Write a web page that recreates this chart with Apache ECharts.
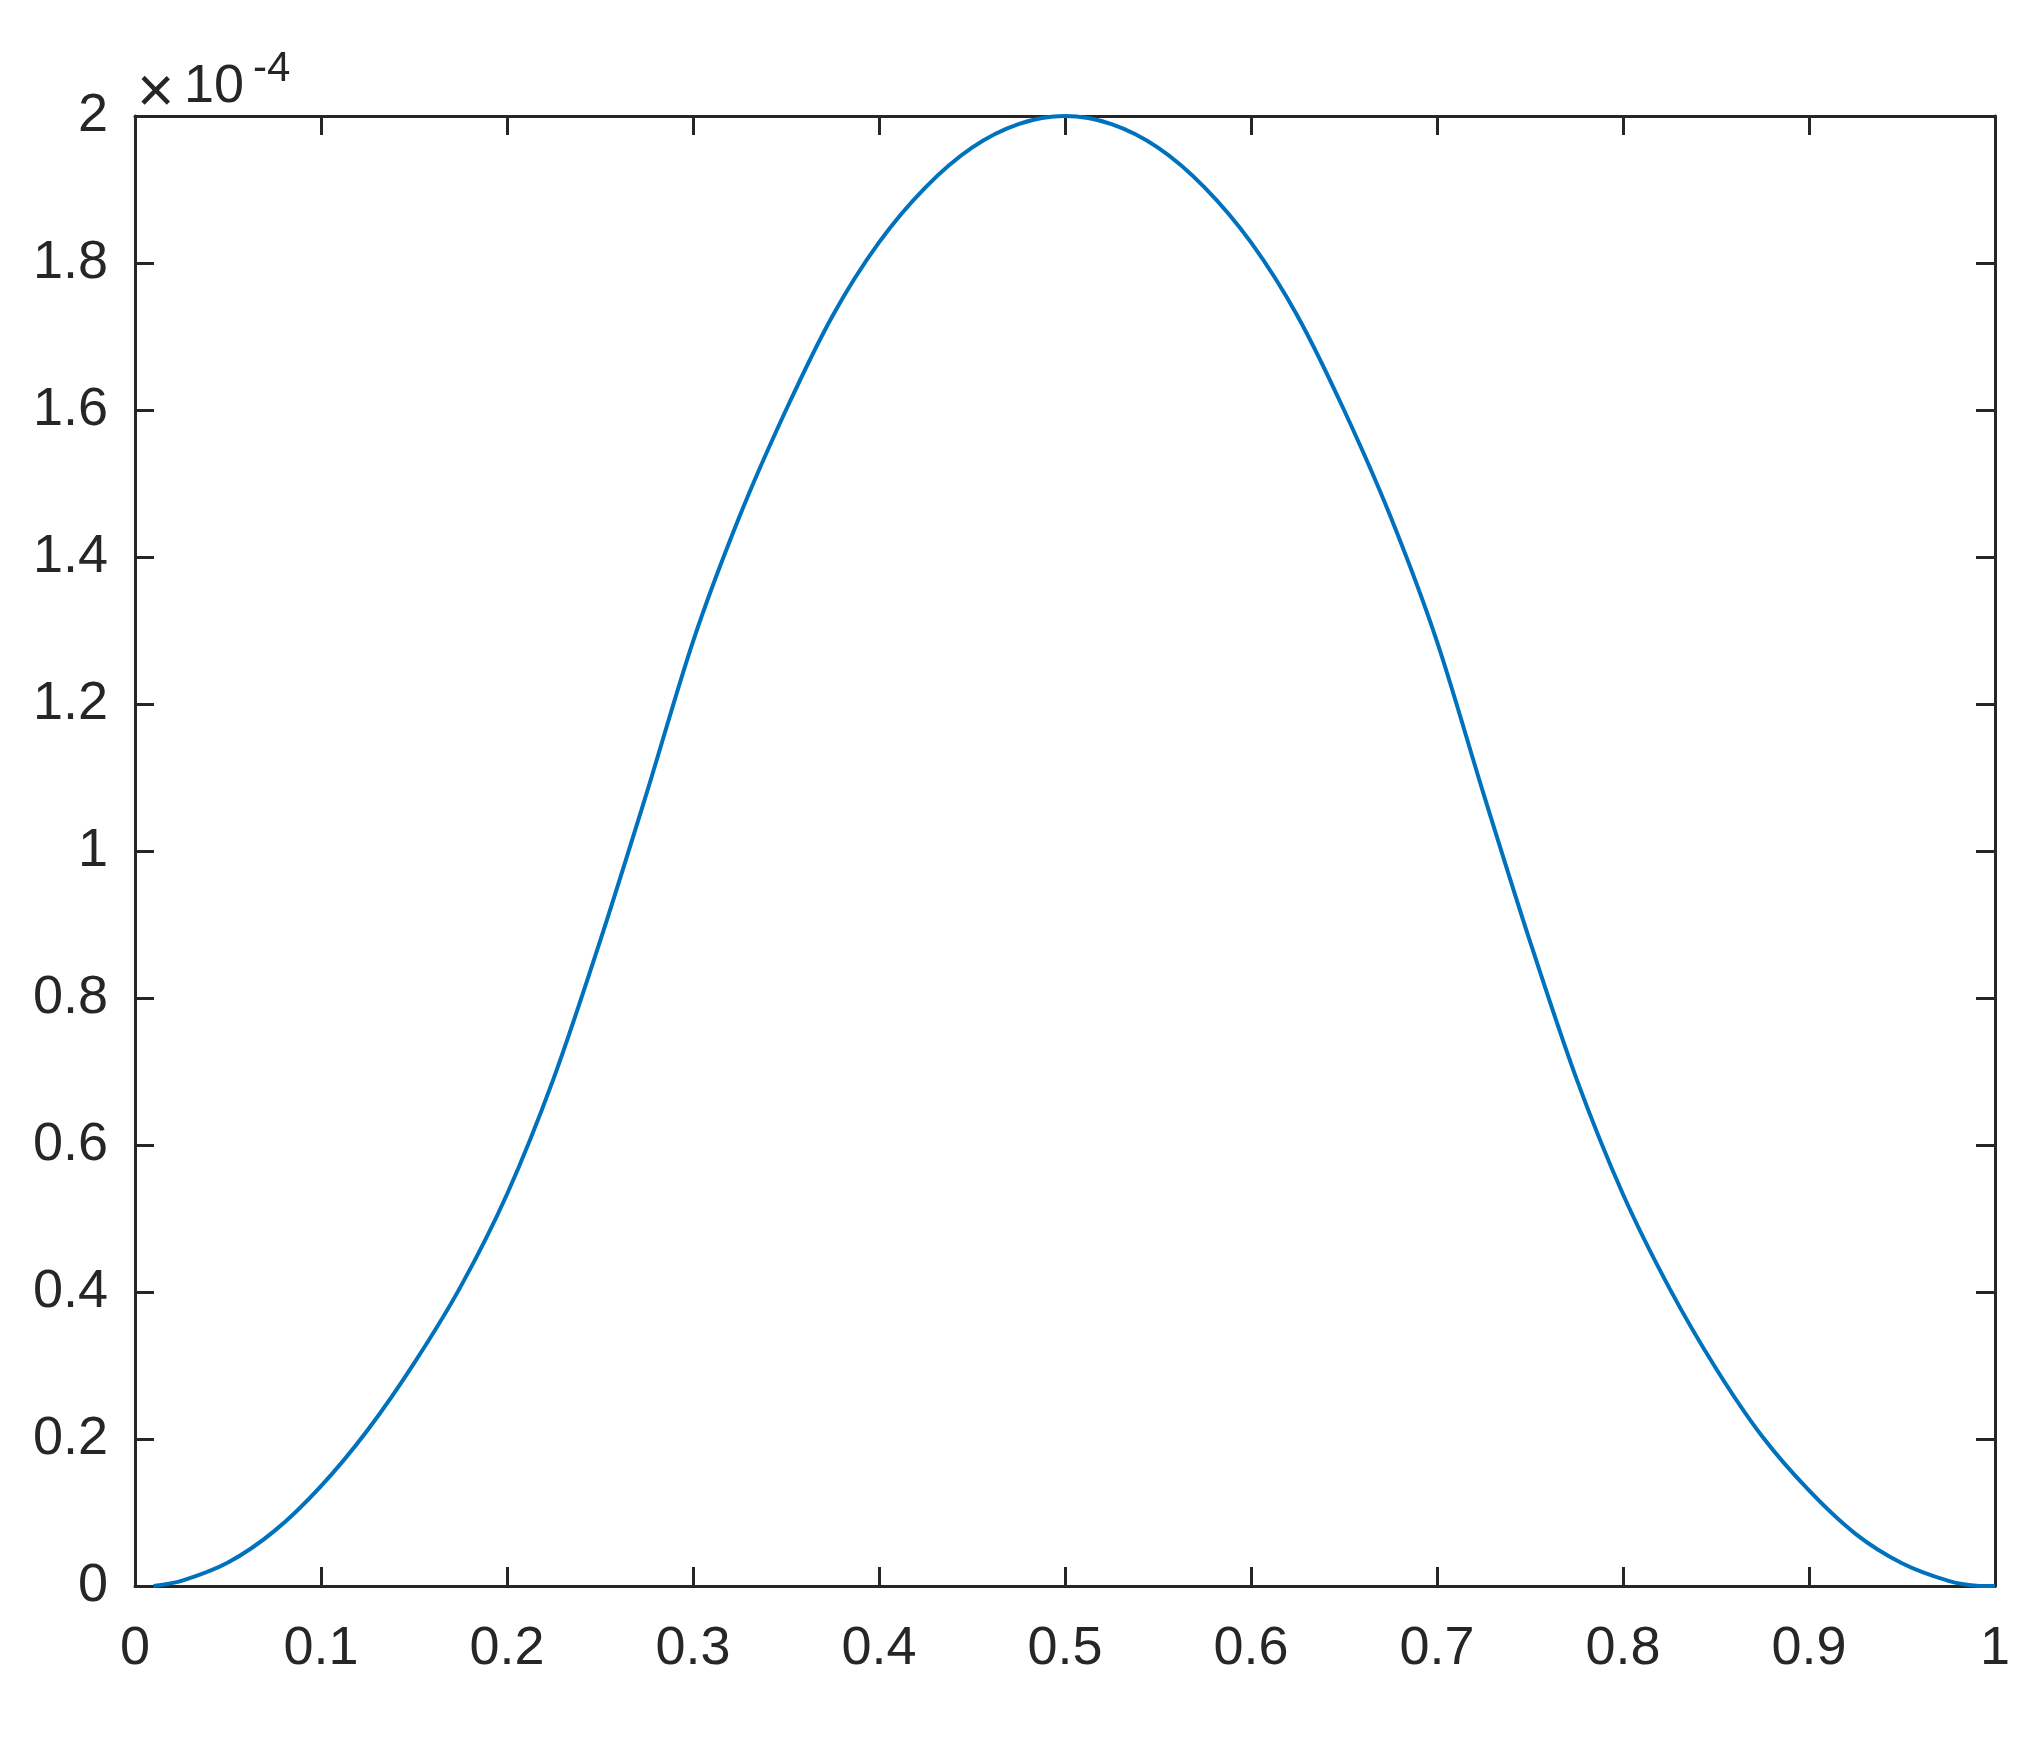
<!DOCTYPE html>
<html>
<head>
<meta charset="utf-8">
<style>
  html, body { margin: 0; padding: 0; background: #fff; }
  #chart { width: 2037px; height: 1744px; }
</style>
<script src="https://cdn.jsdelivr.net/npm/echarts@6/dist/echarts.min.js"></script>
</head>
<body>
<div id="chart"></div>
<script>
// x positions of the read points
const xValues = [0.01, 0.025, 0.05, 0.075, 0.1, 0.125, 0.15, 0.175, 0.2, 0.225, 0.25, 0.275,
  0.3, 0.325, 0.35, 0.375, 0.4, 0.425, 0.45, 0.475, 0.5, 0.525, 0.55, 0.575, 0.6, 0.625,
  0.65, 0.675, 0.7, 0.725, 0.75, 0.775, 0.8, 0.825, 0.85, 0.875, 0.9, 0.925, 0.95, 0.975,
  0.99, 1.0];
// y values, in units of 1e-4 (axis shows the x10^-4 factor)
const yValues = [0, 0.007, 0.032, 0.075, 0.136, 0.212, 0.303, 0.407, 0.533, 0.690, 0.877, 1.078,
  1.285, 1.455, 1.600, 1.728, 1.828, 1.903, 1.957, 1.989, 2.0, 1.989, 1.957, 1.903, 1.828, 1.728,
  1.600, 1.455, 1.285, 1.078, 0.877, 0.690, 0.533, 0.405, 0.296, 0.203, 0.130, 0.071, 0.031, 0.007,
  0.0005, 0];
const xTicks = { min: 0, max: 1, step: 0.1 };
const yTicks = { min: 0, max: 2, step: 0.2 };
const exponentText = ['×', '10', '-4'];

const FONT = '"Liberation Sans", Arial, Helvetica, sans-serif';
const INK = '#262626';

const points = xValues.map((x, i) => [x, yValues[i]]);

const chart = echarts.init(document.getElementById('chart'));

// shared axis look (box with inside ticks on all four sides)
function axisBase(extra) {
  return Object.assign({
    type: 'value',
    axisLine: { show: true, onZero: false, lineStyle: { color: INK, width: 3 } },
    axisTick: { show: true, inside: true, length: 19, lineStyle: { color: INK, width: 3 } },
    splitLine: { show: false }
  }, extra);
}

const option = {
  backgroundColor: '#ffffff',
  animation: false,
  grid: { left: 135, top: 116, width: 1860, height: 1470, containLabel: false },
  xAxis: [
    axisBase({
      position: 'bottom', min: xTicks.min, max: xTicks.max, interval: xTicks.step,
      axisLabel: { color: INK, fontFamily: FONT, fontSize: 54, margin: 36 }
    }),
    axisBase({
      position: 'top', min: xTicks.min, max: xTicks.max, interval: xTicks.step,
      axisLabel: { show: false }
    })
  ],
  yAxis: [
    axisBase({
      position: 'left', min: yTicks.min, max: yTicks.max, interval: yTicks.step,
      axisLabel: { color: INK, fontFamily: FONT, fontSize: 54, margin: 27 }
    }),
    axisBase({
      position: 'right', min: yTicks.min, max: yTicks.max, interval: yTicks.step,
      axisLabel: { show: false }
    })
  ],
  series: [{
    type: 'line',
    data: points,
    smooth: 0.3,
    showSymbol: false,
    lineStyle: { color: '#0072BD', width: 4 }
  }],
  graphic: [
    { type: 'text', left: 137, top: 62,
      style: { text: exponentText[0], fontSize: 64, fontFamily: FONT, fill: INK } },
    { type: 'text', left: 184, top: 60,
      style: { text: exponentText[1], fontSize: 54, fontFamily: FONT, fill: INK } },
    { type: 'text', left: 253, top: 48,
      style: { text: exponentText[2], fontSize: 42, fontFamily: FONT, fill: INK } }
  ]
};

chart.setOption(option);
</script>
</body>
</html>
